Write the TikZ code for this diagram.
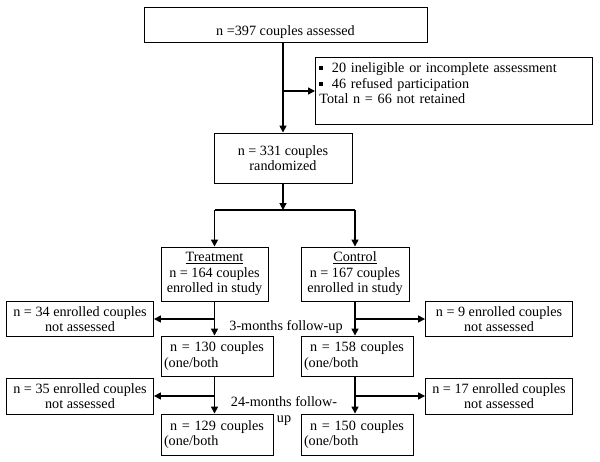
\documentclass[tikz,border=0pt]{standalone}
\usepackage{fontspec}
\setmainfont{Liberation Serif}
\usetikzlibrary{arrows.meta}
\newcommand{\sqbul}{\rule[2.5pt]{4pt}{4pt}\hspace{8.5pt}}

\begin{document}
\begin{tikzpicture}[x=1pt,y=-1pt,
    txt/.style={font=\fontsize{14.2}{15.5}\selectfont},
    box/.style={txt,draw,line width=0.9pt,inner sep=3pt,align=center},
    countbox/.style={box,minimum width=112,minimum height=40,text width=106,align=left},
    lostbox/.style={box,minimum width=147,minimum height=35},
    flow/.style={line width=1.5pt,-{Triangle[length=7pt,width=7pt]}},
    link/.style={line width=1.5pt}]
    \useasboundingbox (0,0) rectangle (600,461);

    \node[box,minimum width=283,text height=28.5,text depth=6.5,inner sep=0] (top) at (285.5,24.5) {n =397 couples assessed};
    \node[box,anchor=north west,text width=269,align=left,inner xsep=4,inner ysep=4,minimum height=67] (excl) at (315,57)
        {\sqbul 20 ineligible or incomplete assessment\\\sqbul 46 refused participation\\Total n = 66 not retained\\\mbox{}};
    \node[box,minimum width=138,minimum height=50] (rand) at (283,158) {n = 331 couples\\randomized};

    \node[box,minimum width=107,minimum height=54] (treat) at (214.5,274) {\underline{Treatment}\\n = 164 couples\\enrolled in study};
    \node[box,minimum width=108,minimum height=54] (ctrl) at (355,274) {\underline{Control}\\n = 167 couples\\enrolled in study};

    \node[lostbox] (lostT3) at (80,319) {n = 34 enrolled couples\\not assessed};
    \node[lostbox] (lostC3) at (499,319) {n = 9 enrolled couples\\not assessed};
    \node[txt] (fu3) at (286,327) {3-months follow-up};
    \node[countbox] (treat3) at (217,356) {{\centering n = 130 couples\par}(one/both};
    \node[countbox] (ctrl3) at (357,356) {{\centering n = 158 couples\par}(one/both};

    \node[lostbox,minimum height=36] (lostT24) at (80,396) {n = 35 enrolled couples\\not assessed};
    \node[lostbox,minimum height=36] (lostC24) at (499,396) {n = 17 enrolled couples\\not assessed};
    \node[txt,align=center] (fu24) at (284,411) {24-months follow-\\up};
    \node[countbox,minimum height=41] (treat24) at (217,434.5) {{\centering n = 129 couples\par}(one/both};
    \node[countbox,minimum height=41] (ctrl24) at (357,434.5) {{\centering n = 150 couples\par}(one/both};

    \coordinate (out) at (283,91);
    \coordinate (split) at (283,210);
    \draw[flow] (rand.north |- top.south) -- (rand.north);
    \draw[flow] (out) -- (out -| excl.west);
    \draw[flow] (rand.south) -- (split);
    \draw[link] (split -| treat) -- (split -| ctrl);
    \draw[flow] (split -| treat) -- (treat.north);
    \draw[flow] (split -| ctrl) -- (ctrl.north);

    \draw[flow] (treat.south) -- (treat.south |- treat3.north);
    \draw[flow] (ctrl.south) -- (ctrl.south |- ctrl3.north);
    \draw[flow] (treat |- lostT3.east) -- (lostT3.east);
    \draw[flow] (ctrl |- lostC3.west) -- (lostC3.west);

    \draw[flow] (treat |- treat3.south) -- (treat |- treat24.north);
    \draw[flow] (ctrl |- ctrl3.south) -- (ctrl |- ctrl24.north);
    \draw[flow] (treat |- lostT24.east) -- (lostT24.east);
    \draw[flow] (ctrl |- lostC24.west) -- (lostC24.west);
\end{tikzpicture}
\end{document}
